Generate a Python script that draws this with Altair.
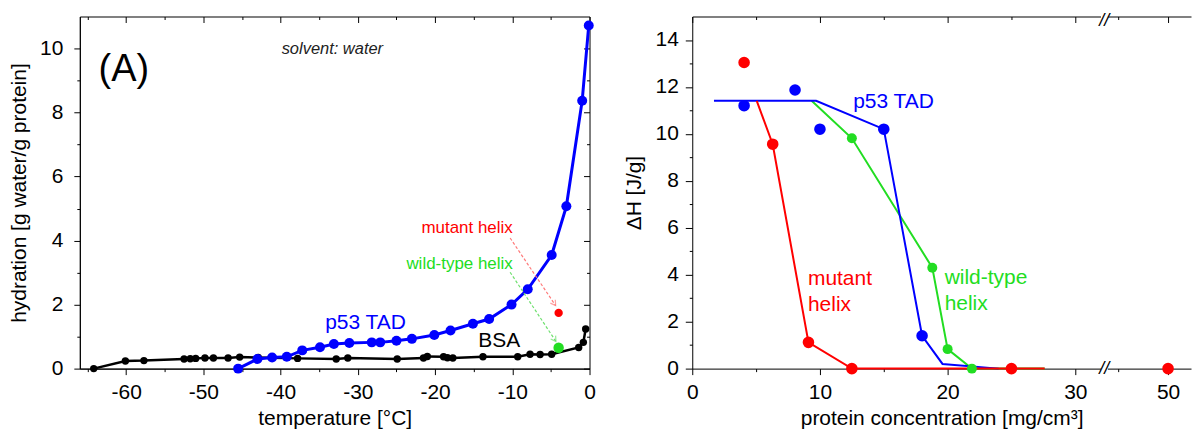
import altair as alt
import pandas as pd

# ---------------- Panel (A): hydration vs temperature ----------------
p53_temp = [-45.5, -43.0, -41.1, -39.2, -37.2, -34.9, -33.1, -31.1, -28.2, -27.1, -25.0,
            -23.0, -20.1, -18.0, -15.1, -13.0, -10.1, -8.0, -4.9, -3.0, -0.95, -0.1]
p53_hyd = [0.0, 0.30, 0.35, 0.37, 0.57, 0.67, 0.77, 0.80, 0.82, 0.82, 0.87,
           0.93, 1.05, 1.19, 1.40, 1.55, 2.0, 2.48, 3.55, 5.07, 8.37, 10.72]
bsa_temp = [-64.2, -60.1, -57.7, -52.5, -51.7, -51.0, -49.8, -48.7, -46.8, -45.3, -42.9,
            -37.8, -32.8, -31.3, -24.9, -21.5, -21.0, -18.9, -18.4, -17.7, -13.8, -9.3,
            -7.7, -6.4, -4.9, -1.4, -0.8, -0.5]
bsa_hyd = [0.0, 0.24, 0.25, 0.30, 0.31, 0.32, 0.33, 0.33, 0.33, 0.36, 0.35,
           0.32, 0.30, 0.33, 0.30, 0.33, 0.38, 0.37, 0.34, 0.33, 0.37, 0.37,
           0.45, 0.44, 0.45, 0.66, 0.82, 1.24]
mutant_temp = [-4.0]
mutant_hyd = [1.74]
wildtype_temp = [-4.0]
wildtype_hyd = [0.65]

xA_major = [-60, -50, -40, -30, -20, -10, 0]
xA_minor = [-65, -55, -45, -35, -25, -15, -5]
yA_major = [0, 2, 4, 6, 8, 10]
yA_minor = [1, 3, 5, 7, 9]

# ---------------- Panel (B): dH vs protein concentration ----------------
tad_fit_conc = [1.7, 9.7, 15.0, 18.0, 19.6, 24.0]
tad_fit_dh = [11.41, 11.41, 10.2, 1.4, 0.2, 0.0]
mut_fit_conc = [5.05, 6.3, 9.1, 12.5, 27.6]
mut_fit_dh = [11.41, 9.56, 1.12, 0.0, 0.0]
wt_fit_conc = [9.35, 12.5, 18.8, 20.0, 21.9, 27.6]
wt_fit_dh = [11.41, 9.81, 4.3, 0.83, 0.0, 0.0]
tad_conc = [4.06, 8.05, 10.0, 15.0, 18.0]
tad_dh = [11.2, 11.87, 10.2, 10.2, 1.4]
mut_conc = [4.06, 6.3, 9.1, 12.5, 25.0, 50.0]
mut_dh = [13.04, 9.56, 1.12, 0.0, 0.0, 0.0]
wt_conc = [12.5, 18.8, 20.0, 21.9]
wt_dh = [9.81, 4.3, 0.83, 0.0]

xB_major = [0, 10, 20, 30, 50]
xB_minor = [5, 15, 25, 45]
yB_major = [0, 2, 4, 6, 8, 10, 12, 14]
yB_minor = [1, 3, 5, 7, 9, 11, 13]

FONT = "Liberation Sans"
BLUE = "#0000ff"
RED = "#ff0000"
GREEN = "#22dd22"
BLACK = "#000000"
H = 353


def df(xs, ys):
    return pd.DataFrame({"x": xs, "y": ys})


def main_axis(values, title, tick, label_pad, title_pad):
    return alt.Axis(
        values=values, title=title,
        labelExpr="'' + datum.value",
        tickSize=tick, labelFlush=False, labelOverlap=False, grid=False,
        labelPadding=label_pad, titlePadding=title_pad,
        labelFontSize=21, titleFontSize=21, titleFontWeight="normal",
        labelColor="black", titleColor="black", tickColor="black", domainColor="black",
        labelFont=FONT, titleFont=FONT,
    )


def ax(orient, vals, size, offset, domain=False, ticks=True):
    return alt.Axis(orient=orient, values=vals, labels=False, domain=domain, ticks=ticks, grid=False,
                    tickSize=size, offset=offset, tickColor="black", domainColor="black", title=None)


def tick_layer(xscale, yscale, xaxis, yaxis, xmid, ymid):
    return alt.Chart(df([xmid], [ymid])).mark_point(opacity=0).encode(
        x=alt.X("x:Q", scale=xscale, axis=xaxis),
        y=alt.Y("y:Q", scale=yscale, axis=yaxis),
    )


# ======================= Panel A =======================
xA = alt.Scale(domain=[-66, 0], nice=False, zero=False)
yA = alt.Scale(domain=[0, 11], nice=False, zero=False)

bsa_line = alt.Chart(df(bsa_temp, bsa_hyd)).mark_line(color=BLACK, strokeWidth=2.5).encode(
    x=alt.X("x:Q", scale=xA, axis=main_axis(xA_major, "temperature [°C]", 6, 7, 5)),
    y=alt.Y("y:Q", scale=yA, axis=main_axis(yA_major, "hydration [g water/g protein]", 6, 11, 10)),
)
bsa_pts = alt.Chart(df(bsa_temp, bsa_hyd)).mark_circle(color=BLACK, size=55, opacity=1).encode(
    x=alt.X("x:Q", scale=xA), y=alt.Y("y:Q", scale=yA))
p53_line = alt.Chart(df(p53_temp, p53_hyd)).mark_line(color=BLUE, strokeWidth=3).encode(
    x=alt.X("x:Q", scale=xA), y=alt.Y("y:Q", scale=yA))
p53_pts = alt.Chart(df(p53_temp, p53_hyd)).mark_circle(color=BLUE, size=100, opacity=1).encode(
    x=alt.X("x:Q", scale=xA), y=alt.Y("y:Q", scale=yA))

arrows = pd.DataFrame({
    "x": [-10.28, -10.28], "y": [4.08, 3.01],
    "x2": [-4.39, -4.35], "y2": [1.97, 0.85],
    "c": ["#ff7a7a", "#6fe06f"],
})
arrow_lines = alt.Chart(arrows).mark_rule(strokeDash=[3, 2], strokeWidth=1.2).encode(
    x=alt.X("x:Q", scale=xA), y=alt.Y("y:Q", scale=yA), x2="x2:Q", y2="y2:Q",
    color=alt.Color("c:N", scale=None))
arrow_heads = alt.Chart(arrows).mark_point(shape="M-0.6,-1L0,0L0.6,-1", filled=False,
                                           angle=326, size=100, strokeWidth=1.2).encode(
    x=alt.X("x2:Q", scale=xA), y=alt.Y("y2:Q", scale=yA),
    color=alt.Color("c:N", scale=None))

mut_pt = alt.Chart(df(mutant_temp, mutant_hyd)).mark_circle(color=RED, size=70, opacity=1).encode(
    x=alt.X("x:Q", scale=xA), y=alt.Y("y:Q", scale=yA))
wt_pt = alt.Chart(df(wildtype_temp, wildtype_hyd)).mark_circle(color=GREEN, size=110, opacity=1).encode(
    x=alt.X("x:Q", scale=xA), y=alt.Y("y:Q", scale=yA))

labelsA_big = pd.DataFrame({"x": [-29.0, -11.7], "y": [1.41, 0.875],
                            "t": ["p53 TAD", "BSA"], "c": [BLUE, BLACK]})
txtA_big = alt.Chart(labelsA_big).mark_text(font=FONT, fontSize=21, align="center", baseline="middle").encode(
    x=alt.X("x:Q", scale=xA), y=alt.Y("y:Q", scale=yA), text="t:N", color=alt.Color("c:N", scale=None))
labelsA_small = pd.DataFrame({"x": [-9.94, -9.94], "y": [4.38, 3.27],
                              "t": ["mutant helix", "wild-type helix"], "c": [RED, GREEN]})
txtA_small = alt.Chart(labelsA_small).mark_text(font=FONT, fontSize=17, align="right", baseline="middle").encode(
    x=alt.X("x:Q", scale=xA), y=alt.Y("y:Q", scale=yA), text="t:N", color=alt.Color("c:N", scale=None))
txtA_panel = alt.Chart(pd.DataFrame({"x": [-60.3], "y": [9.0], "t": ["(A)"]})).mark_text(
    font=FONT, fontSize=38, align="center", baseline="alphabetic", color=BLACK).encode(
    x=alt.X("x:Q", scale=xA), y=alt.Y("y:Q", scale=yA), text="t:N")
txtA_solv = alt.Chart(pd.DataFrame({"x": [-33.3], "y": [10.0], "t": ["solvent: water"]})).mark_text(
    font=FONT, fontSize=16.5, fontStyle="italic", align="center", baseline="middle", color="#222222").encode(
    x=alt.X("x:Q", scale=xA), y=alt.Y("y:Q", scale=yA), text="t:N")

dataA = alt.layer(bsa_line, bsa_pts, p53_line, p53_pts, arrow_lines, arrow_heads,
                  mut_pt, wt_pt, txtA_big, txtA_small, txtA_panel, txtA_solv)
panelA = alt.layer(
    dataA,
    tick_layer(xA, yA, ax("bottom", xA_minor, 3, 0), ax("left", yA_minor, 3, 0), -30, 5),
    tick_layer(xA, yA, ax("top", xA_major, 6, -6), ax("right", yA_major, 6, -6), -30, 5),
    tick_layer(xA, yA, ax("top", xA_minor, 3, -3), ax("right", yA_minor, 3, -3), -30, 5),
).resolve_axis(x="independent", y="independent").properties(
    width=511, height=H, view=alt.ViewBackground(stroke="black", strokeWidth=1))

# ======================= Panel B =======================
# x axis is broken between 30 and 45 (piecewise scale)
xB = alt.Scale(domain=[0, 32.0, 44.0, 52.3], range=[0, 409.6, 417, 500], nice=False, zero=False)
yB = alt.Scale(domain=[0, 15], nice=False, zero=False)

wt_fit = alt.Chart(df(wt_fit_conc, wt_fit_dh)).mark_line(color=GREEN, strokeWidth=2).encode(
    x=alt.X("x:Q", scale=xB, axis=main_axis(xB_major, "protein concentration [mg/cm³]", 6, 7, 5)),
    y=alt.Y("y:Q", scale=yB, axis=main_axis(yB_major, "ΔH [J/g]", 7, 7, 11)),
)
tad_fit = alt.Chart(df(tad_fit_conc, tad_fit_dh)).mark_line(color=BLUE, strokeWidth=2).encode(
    x=alt.X("x:Q", scale=xB), y=alt.Y("y:Q", scale=yB))
mut_fit = alt.Chart(df(mut_fit_conc, mut_fit_dh)).mark_line(color=RED, strokeWidth=2).encode(
    x=alt.X("x:Q", scale=xB), y=alt.Y("y:Q", scale=yB))
wt_p = alt.Chart(df(wt_conc, wt_dh)).mark_circle(color=GREEN, size=100, opacity=1).encode(
    x=alt.X("x:Q", scale=xB), y=alt.Y("y:Q", scale=yB))
tad_p = alt.Chart(df(tad_conc, tad_dh)).mark_circle(color=BLUE, size=135, opacity=1).encode(
    x=alt.X("x:Q", scale=xB), y=alt.Y("y:Q", scale=yB))
mut_p = alt.Chart(df(mut_conc, mut_dh)).mark_circle(color=RED, size=135, opacity=1).encode(
    x=alt.X("x:Q", scale=xB), y=alt.Y("y:Q", scale=yB))

breaks = pd.DataFrame({"x": [32.3, 32.3], "x2": [43.5, 43.5], "y": [-0.3, 14.75], "y2": [0.3, 15.05]})
break_mask = alt.Chart(breaks).mark_rect(color="white").encode(
    x=alt.X("x:Q", scale=xB), x2="x2:Q", y=alt.Y("y:Q", scale=yB), y2="y2:Q")
break_marks = pd.DataFrame({"x": [37.5, 37.5], "y": [0.0, 14.82], "t": ["//", "//"]})
break_txt = alt.Chart(break_marks).mark_text(font=FONT, fontSize=18, fontStyle="italic",
                                             align="center", baseline="middle", color=BLACK).encode(
    x=alt.X("x:Q", scale=xB), y=alt.Y("y:Q", scale=yB), text="t:N")

labelsB = pd.DataFrame({
    "x": [12.6, 9.06, 9.06, 19.77, 19.77],
    "y": [11.37, 3.82, 2.72, 3.86, 2.75],
    "t": ["p53 TAD", "mutant", "helix", "wild-type", "helix"],
    "c": [BLUE, RED, RED, GREEN, GREEN],
})
txtB = alt.Chart(labelsB).mark_text(font=FONT, fontSize=21, align="left", baseline="middle").encode(
    x=alt.X("x:Q", scale=xB), y=alt.Y("y:Q", scale=yB), text="t:N", color=alt.Color("c:N", scale=None))

dataB = alt.layer(wt_fit, tad_fit, mut_fit, wt_p, tad_p, mut_p, break_mask, break_txt, txtB)
panelB = alt.layer(
    alt.Chart(df([20], [7])).mark_point(opacity=0).encode(
        x=alt.X("x:Q", scale=xB, axis=ax("top", [], 0, 0, domain=True, ticks=False)),
        y=alt.Y("y:Q", scale=yB, axis=None)),
    dataB,
    tick_layer(xB, yB, ax("bottom", xB_minor, 3, 0), ax("left", yB_minor, 3, 0), 20, 7),
    alt.Chart(df([20], [7])).mark_point(opacity=0).encode(
        x=alt.X("x:Q", scale=xB, axis=ax("top", xB_major, 6, -6)),
        y=alt.Y("y:Q", scale=yB, axis=None)),
    alt.Chart(df([20], [7])).mark_point(opacity=0).encode(
        x=alt.X("x:Q", scale=xB, axis=ax("top", xB_minor, 3, -3)),
        y=alt.Y("y:Q", scale=yB, axis=None)),
).resolve_axis(x="independent", y="independent").properties(
    width=500, height=H, view=alt.ViewBackground(stroke="transparent"))

chart = alt.hconcat(panelA, panelB, spacing=103, bounds="flush").properties(
    padding={"left": 0, "top": 2, "right": 0, "bottom": 0}
).configure(font=FONT)

chart.save("out.html", embed_options={"renderer": "svg", "actions": False})
